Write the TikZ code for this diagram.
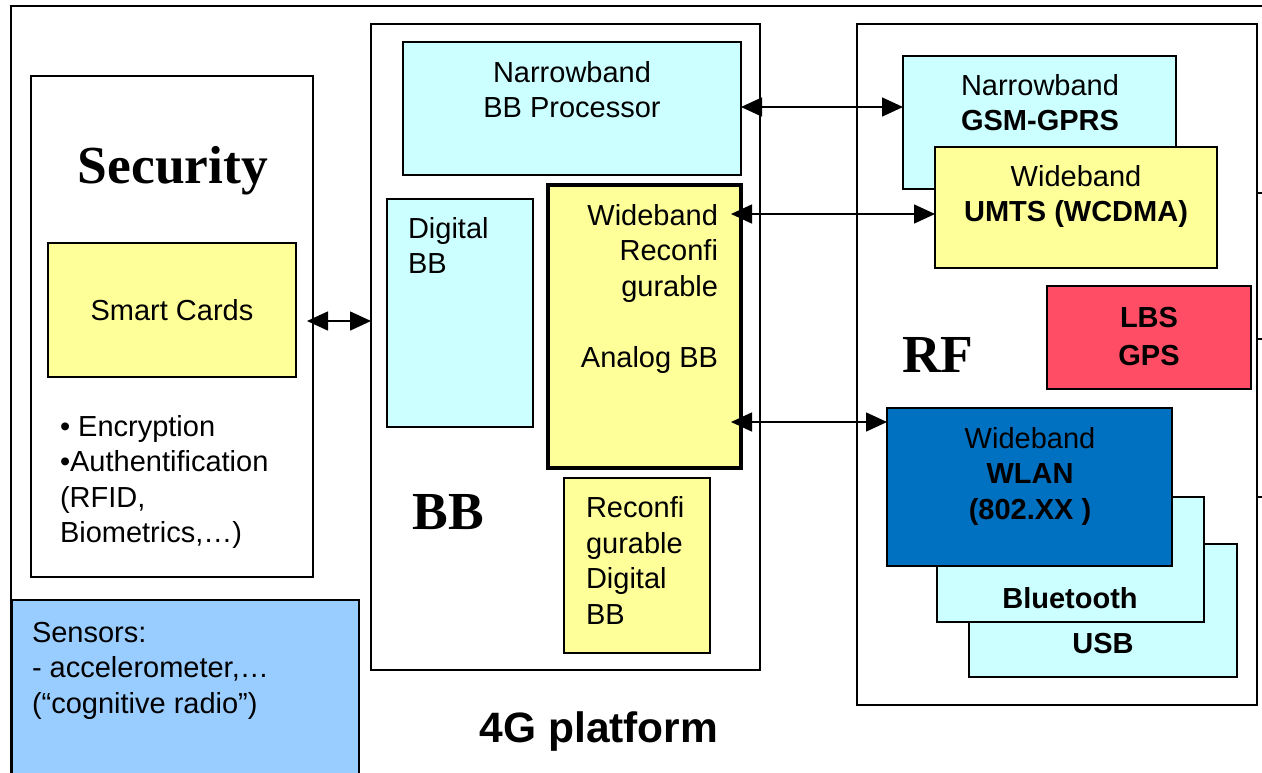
\documentclass[tikz,border=0pt]{standalone}
\usepackage{fontspec}
\setmainfont{Liberation Serif}
\setsansfont{Liberation Sans}
\usetikzlibrary{arrows.meta}
\definecolor{cyanbox}{HTML}{CCFFFF}
\definecolor{yellowbox}{HTML}{FFFF99}
\definecolor{lbsred}{HTML}{FF4D66}
\definecolor{wlanblue}{HTML}{0070C0}
\definecolor{sensorblue}{HTML}{99CCFF}

\begin{document}
\begin{tikzpicture}[x=1pt,y=-1pt,
  frame/.style={draw=black, line width=1.6pt},
  box/.style={draw=black, line width=1.6pt, rectangle, inner sep=0pt, outer sep=0pt, anchor=north west},
  txt/.style={font=\sffamily\fontsize{29}{35.5}\selectfont, inner sep=0pt, outer sep=0pt},
  btxt/.style={txt, font=\sffamily\bfseries\fontsize{29}{35.5}\selectfont},
  title/.style={font=\rmfamily\bfseries\fontsize{53.5}{60}\selectfont, inner sep=0pt, anchor=base},
  arr/.style={{Triangle[length=21pt,width=19pt]}-{Triangle[length=21pt,width=19pt]}, line width=1.5pt}
]
\useasboundingbox[fill=white] (0,0) rectangle (1262,772);
% multi-line text nodes are placed by the baseline of their last line

% outer platform frame
\draw[frame] (11,790) -- (11,6) -- (1275,6);

% security block
\node[box, fill=white, minimum width=282pt, minimum height=501pt] (security) at (31,76) {};
\node[title] (sectitle) at (173,183) {Security};
\node[box, fill=yellowbox, minimum width=248pt, minimum height=134pt] (smart) at (48,243) {};
\node[txt] (smarttxt) at (smart.center) {Smart Cards};
\node[txt, anchor=base west, align=left] (sectxt) at (60,542.5)
  {• Encryption\\•Authentification\\(RFID,\\Biometrics,…)};

% sensors
\node[box, fill=sensorblue, minimum width=347pt, minimum height=200pt] (sensors) at (12,600) {};
\node[txt, anchor=base west, align=left] (senstxt) at (32,713)
  {Sensors:\\- accelerometer,…\\(“cognitive radio”)};

% baseband block
\node[box, minimum width=389pt, minimum height=646pt] (bb) at (371,24) {};
\node[title] (bbtitle) at (448,529) {BB};
\node[box, fill=cyanbox, minimum width=338pt, minimum height=133pt] (nbbb) at (403,42) {};
\node[txt, anchor=base, align=center] (nbbbtxt) at (572,117.5) {Narrowband\\BB Processor};
\node[box, fill=cyanbox, minimum width=146pt, minimum height=228pt] (digbb) at (387,199) {};
\node[txt, anchor=base west, align=left] (digbbtxt) at (408,273.5) {Digital\\BB};
\node[box, fill=yellowbox, line width=4pt, minimum width=193pt, minimum height=283pt] (analog) at (548,185) {};
\node[txt, anchor=base east, align=right] (analogtxt) at (718,367)
  {Wideband\\Reconfi\\gurable\\[35.5pt]Analog BB};
\node[box, fill=yellowbox, minimum width=146pt, minimum height=175pt] (recdig) at (564,478) {};
\node[txt, anchor=base west, align=left] (recdigtxt) at (586,624)
  {Reconfi\\gurable\\Digital\\BB};

% RF block
\node[box, minimum width=400pt, minimum height=681pt] (rf) at (857,24) {};
\node[title] (rftitle) at (938,372) {RF};
\draw[frame] (rf.east |- 0,193) -- (1275,193);
\draw[frame] (rf.east |- 0,339) -- (1275,339);
\draw[frame] (rf.east |- 0,497) -- (1275,497);
\node[box, fill=cyanbox, minimum width=273pt, minimum height=133pt] (gsm) at (903,56) {};
\node[txt, anchor=base, align=center] (gsmtxt) at (1040,130.5) {Narrowband\\\textbf{GSM-GPRS}};
\node[box, fill=yellowbox, minimum width=282pt, minimum height=121pt] (umts) at (935,147) {};
\node[txt, anchor=base, align=center] (umtstxt) at (1076,221.5) {Wideband\\\textbf{UMTS (WCDMA)}};
\node[box, fill=lbsred, minimum width=204pt, minimum height=103pt] (lbs) at (1047,286) {};
\node[btxt, anchor=base, align=center] (lbstxt) at (1149,365) {LBS\\[2.5pt]GPS};
\node[box, fill=cyanbox, minimum width=268pt, minimum height=133pt] (usb) at (969,544) {};
\node[btxt, anchor=base] (usbtxt) at (1103,653) {USB};
\node[box, fill=cyanbox, minimum width=267pt, minimum height=125pt] (bt) at (937,497) {};
\node[btxt, anchor=base] (bttxt) at (1070,608) {Bluetooth};
\node[box, fill=wlanblue, minimum width=285pt, minimum height=158pt] (wlan) at (887,408) {};
\node[txt, anchor=base, align=center] (wlantxt) at (1030,519) {Wideband\\\textbf{WLAN}\\\textbf{(802.XX )}};

% platform caption
\node[font=\sffamily\bfseries\fontsize{42.5}{48}\selectfont, inner sep=0pt, anchor=base] (platform) at (599,742) {4G platform};

% links
\draw[arr] ([xshift=-6pt]security.east |- 0,321) -- (bb.west |- 0,321);
\draw[arr] (nbbb.east |- 0,107) -- (gsm.west |- 0,107);
\draw[arr] ([xshift=-10pt]analog.east |- 0,214) -- (umts.west |- 0,214);
\draw[arr] ([xshift=-10pt]analog.east |- 0,422) -- (wlan.west |- 0,422);
\end{tikzpicture}
\end{document}
